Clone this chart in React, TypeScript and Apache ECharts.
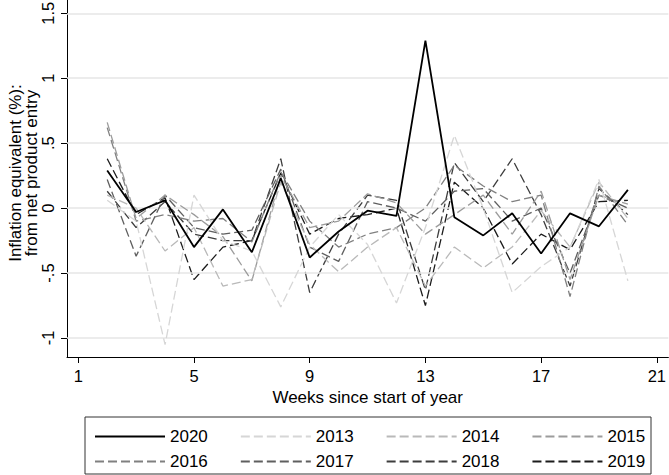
import React, { useEffect, useRef } from 'react';
import * as echarts from 'echarts';

const weeks = [2, 3, 4, 5, 6, 7, 8, 9, 10, 11, 12, 13, 14, 15, 16, 17, 18, 19, 20];
const xTicks = [1, 5, 9, 13, 17, 21];
const yTicks = [-1, -0.5, 0, 0.5, 1, 1.5];

const seriesNames = ['2020', '2013', '2014', '2015', '2016', '2017', '2018', '2019'];

const v2020 = [0.29, -0.03, 0.06, -0.30, -0.01, -0.34, 0.23, -0.38, -0.18, -0.02, -0.06, 1.29, -0.07, -0.21, -0.04, -0.35, -0.04, -0.14, 0.14];
const v2013 = [0.06, -0.1, -1.05, 0.1, -0.25, -0.33, -0.76, -0.3, -0.05, -0.28, -0.73, -0.15, 0.56, 0.0, -0.65, -0.45, -0.3, 0.22, -0.56];
const v2014 = [0.1, 0.0, -0.33, -0.15, -0.6, -0.55, 0.2, -0.28, -0.49, -0.3, -0.15, -0.6, -0.3, -0.46, -0.3, -0.02, -0.3, 0.2, -0.08];
const v2015 = [0.66, -0.08, 0.1, -0.05, -0.22, -0.56, 0.25, -0.15, -0.1, 0.11, 0.04, -0.2, -0.05, 0.1, -0.2, 0.13, -0.55, 0.1, 0.03];
const v2016 = [0.62, -0.1, -0.05, -0.1, -0.08, -0.26, 0.28, -0.1, -0.3, -0.2, -0.15, 0.0, 0.33, 0.17, 0.05, 0.1, -0.68, 0.17, -0.13];
const v2017 = [0.22, -0.37, 0.1, -0.15, -0.2, -0.17, 0.3, -0.3, -0.41, 0.05, 0.0, -0.1, 0.13, 0.15, -0.1, 0.0, -0.5, 0.1, 0.0];
const v2018 = [0.13, -0.15, 0.05, -0.2, -0.25, -0.25, 0.38, -0.65, -0.2, 0.1, 0.06, -0.63, 0.35, 0.05, 0.38, -0.05, -0.6, 0.15, -0.05];
const v2019 = [0.38, -0.05, 0.08, -0.55, -0.3, -0.25, 0.27, -0.2, -0.08, -0.05, 0.0, -0.75, 0.2, 0.0, -0.43, -0.2, -0.32, 0.05, 0.06];

const seriesValues = [v2020, v2013, v2014, v2015, v2016, v2017, v2018, v2019];
const seriesColors = ['#000000', '#d6d6d6', '#b9b9b9', '#9c9c9c', '#808080', '#5f5f5f', '#3d3d3d', '#1c1c1c'];

const FONT = '"Liberation Sans", Arial, sans-serif';

const fmt = (v: number) => {
  if (v === 0) return '0';
  return String(v).replace('0.', '.');
};

export default function App() {
  const ref = useRef<HTMLDivElement>(null);

  useEffect(() => {
    if (!ref.current) return;
    const chart = echarts.init(ref.current, undefined, { renderer: 'svg' });

    const lineSeries: any[] = seriesNames.map((name, i) => ({
      name,
      type: 'line',
      data: weeks.map((w, j) => [w, seriesValues[i][j]]),
      symbol: 'none',
      showSymbol: false,
      z: 10 - i,
      lineStyle: {
        color: seriesColors[i],
        width: i === 0 ? 1.8 : 1.3,
        type: i === 0 ? 'solid' : [9, 4],
      },
      itemStyle: { color: seriesColors[i] },
    }));

    const gridSeries = {
      name: 'grid',
      type: 'line',
      data: [],
      z: 1,
      silent: true,
      markLine: {
        silent: true,
        symbol: 'none',
        label: { show: false },
        lineStyle: { color: '#e6e6e6', width: 1.5, type: 'solid' },
        data: yTicks.map((y) => ({ yAxis: y })),
      },
    };

    const legendCommon = {
      left: 94,
      orient: 'horizontal',
      itemWidth: 70,
      itemHeight: 14,
      itemGap: 32,
      padding: 0,
      selectedMode: false,
      textStyle: { fontSize: 17, color: '#000', fontFamily: FONT },
      itemStyle: { opacity: 0 },
    };

    const staticGraphics: any[] = [
      {
        type: 'rect',
        shape: { x: 85, y: 417, width: 566, height: 57 },
        style: { fill: 'none', stroke: '#333', lineWidth: 1 },
        silent: true,
      },
      {
        type: 'text',
        x: 23,
        y: 173,
        rotation: Math.PI / 2,
        style: {
          text: 'Inflation equivalent (%):\nfrom net product entry',
          font: '17px "Liberation Sans", Arial, sans-serif',
          fill: '#000',
          textAlign: 'center',
          textVerticalAlign: 'middle',
          lineHeight: 16,
        },
        silent: true,
      },
    ];

    chart.setOption({
      animation: false,
      backgroundColor: '#fff',
      grid: { left: 67, right: 0, top: 0, bottom: 118, containLabel: false },
      xAxis: {
        type: 'value',
        min: 0.61,
        max: 21.4,
        name: 'Weeks since start of year',
        nameLocation: 'middle',
        nameGap: 31,
        nameTextStyle: { fontSize: 17, color: '#000', fontFamily: FONT },
        axisLine: { show: true, onZero: false, lineStyle: { color: '#000', width: 1 } },
        axisTick: { show: true, customValues: xTicks, length: 6, lineStyle: { color: '#000' } },
        axisLabel: { customValues: xTicks, fontSize: 16.5, color: '#000', fontFamily: FONT, margin: 10 },
        splitLine: { show: false },
      },
      yAxis: {
        type: 'value',
        min: -1.146,
        max: 1.602,
        axisLine: { show: true, onZero: false, lineStyle: { color: '#000', width: 1 } },
        axisTick: { show: true, customValues: yTicks, length: 6, lineStyle: { color: '#000' } },
        axisLabel: { show: false },
        splitLine: { show: false },
      },
      legend: [
        { ...legendCommon, top: 428, data: seriesNames.slice(0, 4) },
        { ...legendCommon, top: 453, data: seriesNames.slice(4) },
      ],
      graphic: staticGraphics,
      series: [gridSeries, ...lineSeries],
    });

    // y tick labels, rotated like the original, placed through the axis scale
    const yLabelGraphics = yTicks.map((v) => {
      const py = chart.convertToPixel({ yAxisIndex: 0 }, v) as number;
      return {
        type: 'text',
        x: 48,
        y: py,
        rotation: Math.PI / 2,
        silent: true,
        style: {
          text: fmt(v),
          font: '16.5px "Liberation Sans", Arial, sans-serif',
          fill: '#000',
          textAlign: 'center',
          textVerticalAlign: 'middle',
        },
      };
    });

    chart.setOption({ graphic: [...staticGraphics, ...yLabelGraphics] });

    return () => chart.dispose();
  }, []);

  return (
    <div
      ref={ref}
      style={{ position: 'fixed', left: 0, top: 0, width: 669, height: 475, background: '#fff' }}
    />
  );
}
